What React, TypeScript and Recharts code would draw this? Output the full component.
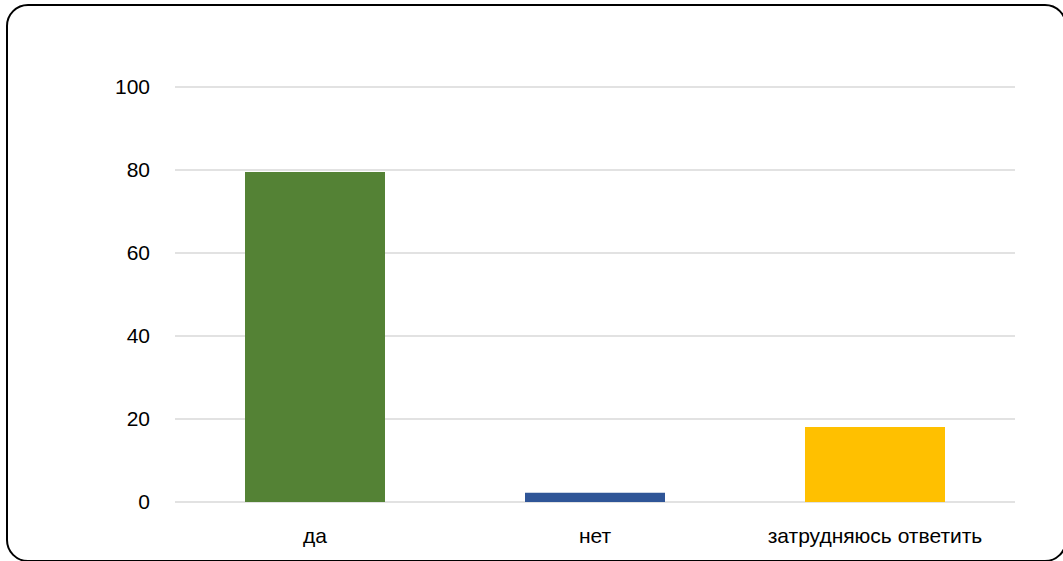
import React from "react";
import { BarChart, Bar, XAxis, YAxis, CartesianGrid, Cell } from "recharts";

const categories = ["да", "нет", "затрудняюсь ответить"];
const values = [79.5, 2.2, 18.1];
const barColors = ["#548235", "#2F5597", "#FFC000"];
const yTicks = [0, 20, 40, 60, 80, 100];

const data = categories.map((name, i) => ({ name, value: values[i] }));

const FONT = "'Liberation Sans', Arial, sans-serif";

export default function App() {
  return (
    <div
      style={{
        position: "absolute",
        left: 0,
        top: 0,
        width: 1063,
        height: 561,
        background: "#fff",
        overflow: "hidden",
      }}
    >
      <div
        style={{
          position: "absolute",
          left: 6,
          top: 4,
          width: 1061,
          height: 558,
          border: "2px solid #000",
          borderRadius: 22,
          boxSizing: "border-box",
        }}
      />
      <div style={{ position: "absolute", left: 0, top: 0 }}>
        <BarChart
          width={1063}
          height={561}
          data={data}
          margin={{ top: 87, right: 48, bottom: 29, left: 0 }}
          barCategoryGap="25%"
        >
          <CartesianGrid vertical={false} stroke="#d9d9d9" strokeWidth={1.5} />
          <XAxis
            dataKey="name"
            axisLine={false}
            tickLine={false}
            tickSize={0}
            tickMargin={26}
            height={30}
            interval={0}
            tick={{ fill: "#000", fontSize: 21, fontFamily: FONT }}
          />
          <YAxis
            width={175}
            domain={[0, 100]}
            ticks={yTicks}
            axisLine={false}
            tickLine={false}
            tickSize={0}
            tickMargin={25}
            tick={{ fill: "#000", fontSize: 21, fontFamily: FONT }}
          />
          <Bar dataKey="value" isAnimationActive={false}>
            {data.map((d, i) => (
              <Cell key={d.name} fill={barColors[i]} />
            ))}
          </Bar>
        </BarChart>
      </div>
    </div>
  );
}
